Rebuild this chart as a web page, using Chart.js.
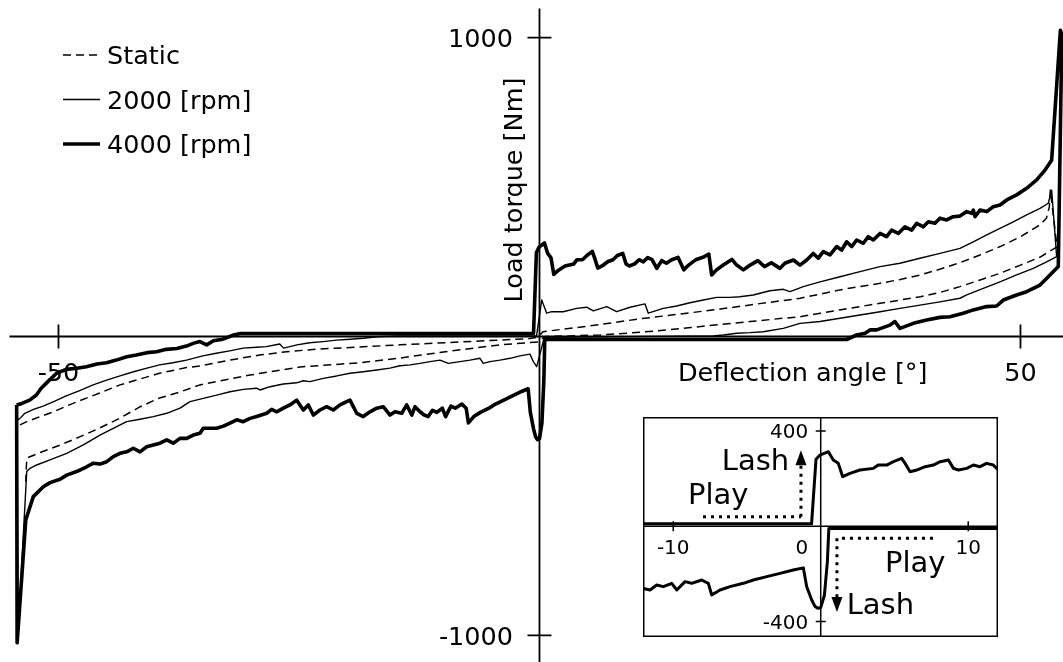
<!DOCTYPE html>
<html><head><meta charset="utf-8">
<script src="https://cdn.jsdelivr.net/npm/chart.js@4.4.1/dist/chart.umd.min.js"></script>
<style>
html,body{margin:0;padding:0;background:#fff;}
#wrap{position:relative;width:1063px;height:662px;overflow:hidden;background:#fff;}
#main{position:absolute;left:0;top:0;}
#inset{position:absolute;left:643px;top:417px;}
</style></head><body>
<div id="wrap"><canvas id="main" width="1063" height="662"></canvas><canvas id="inset" width="355" height="220"></canvas></div>
<script>
// ---------------- data (deflection angle [deg], load torque [Nm]) ----------------
const seriesLabels = ['Static', '2000 [rpm]', '4000 [rpm]'];
const xTickValues = [-50, 50];
const yTickValues = [-1000, 1000];
const insetXTickValues = [-10, 0, 10];
const insetYTickValues = [-400, 400];
const xTitle = 'Deflection angle [°]';
const yTitle = 'Load torque [Nm]';
const playText = 'Play';
const lashText = 'Lash';

const staticUpperLeft = [[-54.0,-296],[-53.3,-285],[-51.9,-268],[-50.5,-252],[-49.2,-233],[-47.8,-215],[-45.7,-189],[-43.6,-162],[-41.5,-142],[-39.5,-123],[-36.7,-104],[-35.3,-99],[-32.2,-79],[-29.1,-62],[-26.0,-50],[-22.9,-42],[-18.7,-35],[-14.5,-28],[-9.3,-20],[-4.1,-12],[-1.0,-7],[-0.15,-2]];
const staticUpperRight = [[0.36,16],[2.1,23],[6.3,40],[10.4,59],[14.6,75],[18.8,92],[22.9,110],[27.1,128],[29.2,142],[31.2,156],[33.3,167],[35.4,178],[37.5,191],[39.6,206],[41.6,225],[43.7,247],[45.8,273],[47.9,301],[50.0,334],[52.0,373],[52.7,396],[53.0,434],[53.1,490]];
const staticLowerRight = [[53.8,300],[52.0,265],[50.0,239],[47.9,212],[45.8,189],[43.7,167],[41.6,147],[39.6,133],[37.5,122],[35.4,111],[33.3,100],[31.2,89],[29.2,78],[27.1,66],[25.0,60],[21.9,50],[18.8,40],[15.7,30],[12.6,20],[9.5,12],[6.3,5],[3.2,2],[0.6,0]];
const staticLowerLeft = [[-0.15,-18],[-4.1,-28],[-9.3,-49],[-14.5,-72],[-18.7,-88],[-24.9,-102],[-30.1,-129],[-35.3,-162],[-37.4,-186],[-39.5,-206],[-41.5,-235],[-43.6,-273],[-45.7,-306],[-47.8,-336],[-49.8,-363],[-51.9,-388],[-53.3,-407],[-53.4,-485]];

const rpm2000UpperLeft = [[-54.0,-274],[-53.5,-257],[-52.6,-244],[-51.6,-233],[-50.5,-218],[-49.2,-199],[-47.8,-181],[-46.4,-162],[-45.0,-146],[-43.6,-132],[-42.2,-118],[-40.8,-106],[-39.5,-95],[-38.1,-88],[-36.7,-79],[-35.0,-65],[-33.6,-56],[-32.2,-48],[-30.8,-39],[-29.4,-36],[-28.4,-34],[-27.0,-25],[-26.6,-39],[-25.2,-28],[-23.9,-21],[-22.5,-17],[-21.1,-12],[-19.7,-9],[-18.3,-6],[-16.9,-1],[-14.8,2],[-0.3,3]];
const rpm2000UpperRight = [[0.23,122],[0.75,78],[1.27,83],[2.47,83],[3.87,94],[4.91,98],[5.59,86],[6.99,100],[8.02,83],[9.41,98],[10.97,109],[11.31,78],[12.87,94],[14.26,102],[15.64,113],[17.03,122],[18.42,131],[19.8,131],[20.84,133],[22.22,139],[23.96,153],[25.34,158],[26.04,150],[27.42,167],[29.16,183],[31.24,200],[33.32,217],[35.4,234],[37.47,245],[39.55,262],[41.63,278],[43.71,295],[45.09,317],[46.49,340],[47.87,362],[49.25,384],[50.64,407],[52.03,429],[52.89,446],[53.24,490]];
const rpm2000LowerRight = [[53.76,267],[52.72,250],[51.33,228],[49.6,206],[47.87,183],[46.13,161],[44.41,139],[43.71,128],[41.63,116],[39.55,105],[37.47,94],[35.4,83],[33.32,72],[31.24,61],[29.16,50],[27.08,44],[25.34,27],[23.26,16],[21.88,13],[20.5,11],[19.11,5],[18.07,2],[0.5,-3]];
const rpm2000LowerLeft = [[-0.29,-101],[-0.64,-84],[-0.99,-59],[-2.03,-65],[-3.07,-73],[-4.11,-79],[-5.15,-84],[-5.84,-90],[-6.19,-73],[-7.22,-79],[-8.26,-84],[-9.48,-90],[-10.34,-79],[-11.38,-84],[-12.42,-90],[-13.46,-95],[-14.5,-98],[-15.54,-106],[-16.92,-112],[-18.32,-118],[-19.7,-123],[-21.08,-132],[-22.47,-140],[-23.86,-151],[-24.55,-148],[-25.24,-155],[-26.63,-159],[-28.01,-168],[-29.05,-179],[-29.4,-173],[-30.79,-177],[-32.17,-185],[-33.56,-196],[-34.95,-207],[-36.33,-218],[-37.37,-240],[-38.75,-257],[-40.15,-268],[-41.53,-277],[-42.91,-285],[-43.95,-302],[-45.69,-330],[-47.42,-363],[-49.15,-391],[-50.88,-413],[-52.27,-430],[-52.96,-441],[-53.3,-452],[-54.2,-990],[-54.3,-280],[-54.0,-274]];

const rpm4000UpperLeft = [[-54.35,-229],[-53.8,-224],[-53.0,-213],[-52.3,-196],[-51.8,-173],[-51.1,-151],[-50.2,-123],[-49.2,-110],[-48.1,-106],[-47.1,-101],[-46.0,-92],[-45.0,-88],[-44.0,-79],[-42.9,-68],[-41.9,-62],[-40.8,-54],[-39.8,-51],[-38.8,-43],[-37.7,-40],[-36.7,-32],[-36.0,-23],[-35.3,-17],[-34.6,-28],[-33.9,-14],[-32.9,-9],[-31.8,5],[-31.1,10],[-0.62,10]];
const rpm4000UpperRight = [[-0.32,281],[-0.05,299],[0.52,313],[0.85,278],[1.19,264],[1.49,208],[1.98,222],[2.66,236],[3.57,243],[3.9,257],[4.47,257],[4.93,271],[5.49,285],[5.72,264],[6.06,229],[6.51,236],[7.08,250],[7.64,257],[8.1,271],[8.66,278],[9.0,243],[9.34,236],[9.9,243],[10.35,257],[10.8,250],[11.25,264],[11.7,257],[12.2,228],[12.7,254],[13.2,245],[13.7,256],[14.4,265],[15.0,223],[15.5,239],[16.3,258],[17.0,265],[17.6,276],[17.9,206],[18.4,223],[19.1,239],[20.0,258],[20.5,239],[21.2,223],[21.9,239],[22.7,254],[23.4,234],[24.1,247],[25.0,228],[25.5,245],[26.4,256],[27.08,239],[27.78,256],[28.46,278],[28.98,262],[29.5,284],[30.2,273],[30.89,301],[31.41,289],[31.93,317],[32.45,301],[32.97,323],[33.66,312],[34.18,334],[34.7,323],[35.4,345],[36.09,334],[36.61,356],[37.3,345],[37.99,367],[38.69,356],[39.21,379],[39.9,367],[40.42,384],[41.11,379],[41.63,396],[42.33,390],[43.01,401],[43.71,403],[44.41,418],[44.93,412],[45.1,423],[45.27,401],[45.79,423],[46.49,418],[47.17,434],[47.87,440],[48.57,457],[49.6,474],[50.64,496],[51.68,524],[52.55,557],[53.24,590],[54.15,1025],[54.3,1010]];
const rpm4000LowerRight = [[53.93,234],[52.89,200],[52.03,172],[51.33,161],[50.64,150],[49.6,139],[48.21,122],[47.52,102],[46.49,100],[45.09,89],[44.05,78],[42.67,66],[41.63,64],[40.25,55],[38.86,44],[37.47,27],[36.95,50],[36.43,38],[35.05,22],[34.36,22],[33.84,11],[32.97,5],[31.93,-10],[0.55,-10]];
const rpm4000LowerLeft = [[0.45,-150],[0.25,-290],[0.0,-342],[-0.2,-345],[-0.4,-336],[-0.61,-310],[-0.95,-254],[-1.18,-175],[-1.86,-184],[-2.76,-198],[-3.66,-212],[-4.57,-226],[-5.25,-240],[-6.15,-254],[-6.83,-268],[-7.39,-289],[-7.62,-240],[-8.07,-226],[-8.75,-240],[-9.2,-233],[-9.76,-268],[-10.1,-240],[-10.67,-254],[-11.12,-247],[-11.57,-268],[-12.02,-262],[-12.42,-252],[-12.94,-235],[-13.28,-263],[-13.8,-229],[-14.32,-257],[-15.02,-252],[-15.54,-263],[-16.24,-235],[-16.92,-240],[-17.62,-252],[-18.32,-268],[-19.0,-257],[-19.7,-213],[-20.04,-218],[-20.74,-229],[-21.43,-246],[-22.12,-235],[-22.82,-246],[-23.51,-263],[-24.03,-229],[-24.55,-246],[-25.24,-213],[-25.94,-229],[-26.63,-240],[-27.32,-252],[-27.84,-244],[-28.36,-257],[-29.4,-268],[-30.09,-274],[-30.79,-285],[-31.48,-279],[-32.17,-290],[-32.87,-300],[-33.56,-307],[-34.95,-307],[-35.29,-324],[-35.99,-330],[-36.67,-341],[-37.37,-341],[-38.07,-357],[-38.75,-346],[-39.45,-357],[-40.15,-363],[-40.83,-369],[-41.53,-386],[-42.22,-374],[-42.91,-386],[-43.61,-391],[-44.3,-402],[-44.99,-419],[-45.69,-427],[-46.38,-424],[-47.07,-436],[-48.11,-452],[-49.15,-464],[-49.84,-478],[-50.88,-489],[-51.58,-503],[-52.62,-536],[-53.4,-614],[-54.3,-1025],[-54.35,-229]];

// inset annotation paths (inset data units)
const playUpperPath = [[-7.98,40],[-1.34,40]];
const lashUpperPath = [[-1.34,40],[-1.34,319]];
const playLowerPath = [[7.61,-51],[1.1,-51]];
const lashLowerPath = [[1.1,-51],[1.1,-360]];

// ---------------- helpers ----------------
const FONT = '"DejaVu Sans", "Liberation Sans", sans-serif';
const toPts = arr => arr.map(([x, y]) => ({x, y}));
const staticLoop = [...staticUpperLeft, ...staticUpperRight, ...staticLowerRight, ...staticLowerLeft];
const rpm2000Loop = [...rpm2000UpperLeft, ...rpm2000UpperRight, ...rpm2000LowerRight, ...rpm2000LowerLeft];
const rpm4000Loop = [...rpm4000UpperLeft, ...rpm4000UpperRight, ...rpm4000LowerRight, ...rpm4000LowerLeft];

function txt(ctx, s, x, y, size, align) {
  ctx.font = size + 'px ' + FONT;
  ctx.textAlign = align;
  ctx.textBaseline = 'alphabetic';
  ctx.fillStyle = '#000';
  ctx.fillText(s, x, y);
}
const capHalf = size => size * 0.729 / 2;

const lineStyles = [
  {borderWidth: 1.5, borderDash: [8, 5]},
  {borderWidth: 1.4, borderDash: []},
  {borderWidth: 3.6, borderDash: []}
];

// ---------------- main chart ----------------
const mainDecor = {
  id: 'mainDecor',
  beforeDatasetsDraw(chart) {
    const {ctx, scales: {x, y}, chartArea: a} = chart;
    const x0 = x.getPixelForValue(0), y0 = y.getPixelForValue(0);
    ctx.save();
    ctx.strokeStyle = '#000';
    ctx.lineWidth = 1.8;
    ctx.beginPath();
    ctx.moveTo(x.getPixelForValue(-55.1), y0); ctx.lineTo(a.right, y0);
    ctx.moveTo(x0, y.getPixelForValue(1098)); ctx.lineTo(x0, a.bottom);
    xTickValues.forEach(v => { const p = x.getPixelForValue(v); ctx.moveTo(p, y0 - 12); ctx.lineTo(p, y0 + 12); });
    yTickValues.forEach(v => { const p = y.getPixelForValue(v); ctx.moveTo(x0 - 12, p); ctx.lineTo(x0 + 12, p); });
    ctx.stroke();
    ctx.restore();
  },
  afterDatasetsDraw(chart) {
    const {ctx, scales: {x, y}} = chart;
    const x0 = x.getPixelForValue(0), y0 = y.getPixelForValue(0);
    const fs = 25.5;
    ctx.save();
    xTickValues.forEach(v => txt(ctx, String(v), x.getPixelForValue(v), y0 + 44.8, fs, 'center'));
    yTickValues.forEach(v => txt(ctx, String(v), x0 - 26.5, y.getPixelForValue(v) + capHalf(fs), fs, 'right'));
    txt(ctx, xTitle, x0 + 138.5, y0 + 44.8, fs, 'left');
    ctx.save();
    ctx.translate(x0 - 17.5, 190);
    ctx.rotate(-Math.PI / 2);
    txt(ctx, yTitle, 0, 0, fs, 'center');
    ctx.restore();
    // legend
    const rows = [55, 99.5, 144];
    chart.data.datasets.forEach((ds, i) => {
      ctx.save();
      ctx.strokeStyle = '#000';
      ctx.lineWidth = ds.borderWidth;
      ctx.setLineDash(ds.borderDash || []);
      ctx.beginPath();
      ctx.moveTo(63, rows[i]); ctx.lineTo(100, rows[i]);
      ctx.stroke();
      ctx.restore();
      txt(ctx, ds.label, 107, rows[i] + capHalf(fs), fs, 'left');
    });
    ctx.restore();
  }
};

function makeDataset(label, loop, st) {
  return {
    label, data: toPts(loop), showLine: true, pointRadius: 0, pointHoverRadius: 0,
    borderColor: '#000', backgroundColor: '#000', borderWidth: st.borderWidth, borderDash: st.borderDash,
    borderJoinStyle: 'round', borderCapStyle: 'butt', fill: false, tension: 0
  };
}

new Chart(document.getElementById('main'), {
  type: 'scatter',
  data: { datasets: [
    makeDataset(seriesLabels[0], staticLoop, lineStyles[0]),
    makeDataset(seriesLabels[1], rpm2000Loop, lineStyles[1]),
    makeDataset(seriesLabels[2], rpm4000Loop, lineStyles[2])
  ]},
  options: {
    responsive: false, animation: false, devicePixelRatio: 1, events: [],
    layout: {padding: 0},
    scales: {
      x: {type: 'linear', min: -56.08, max: 54.42, display: false},
      y: {type: 'linear', min: -1089.4, max: 1126.2, display: false}
    },
    plugins: {legend: {display: false}, tooltip: {enabled: false}}
  },
  plugins: [mainDecor]
});

// ---------------- inset chart ----------------
function dotted(ctx, x, y, path) {
  ctx.beginPath();
  ctx.moveTo(x.getPixelForValue(path[0][0]), y.getPixelForValue(path[0][1]));
  for (let i = 1; i < path.length; i++) ctx.lineTo(x.getPixelForValue(path[i][0]), y.getPixelForValue(path[i][1]));
  ctx.stroke();
}
function arrowHead(ctx, px, py, dir) {
  ctx.beginPath();
  ctx.moveTo(px, py);
  ctx.lineTo(px - 5.5, py - dir * 15);
  ctx.lineTo(px + 5.5, py - dir * 15);
  ctx.closePath();
  ctx.fill();
}

const insetDecor = {
  id: 'insetDecor',
  beforeDraw(chart) {
    const {ctx, width, height} = chart;
    ctx.save(); ctx.fillStyle = '#fff'; ctx.fillRect(0, 0, width, height); ctx.restore();
  },
  beforeDatasetsDraw(chart) {
    const {ctx, scales: {x, y}, chartArea: a} = chart;
    const x0 = x.getPixelForValue(0), y0 = y.getPixelForValue(0);
    ctx.save();
    ctx.strokeStyle = '#000'; ctx.lineWidth = 1.5;
    ctx.beginPath();
    ctx.moveTo(a.left, y0); ctx.lineTo(a.right, y0);
    ctx.moveTo(x0, a.top); ctx.lineTo(x0, a.bottom);
    insetXTickValues.forEach(v => { if (v !== 0) { const p = x.getPixelForValue(v); ctx.moveTo(p, y0 - 5); ctx.lineTo(p, y0 + 5); } });
    insetYTickValues.forEach(v => { const p = y.getPixelForValue(v); ctx.moveTo(x0 - 5, p); ctx.lineTo(x0 + 5, p); });
    ctx.stroke();
    ctx.restore();
  },
  afterDatasetsDraw(chart) {
    const {ctx, scales: {x, y}, chartArea: a} = chart;
    const x0 = x.getPixelForValue(0), y0 = y.getPixelForValue(0);
    const fs = 20;
    ctx.save();
    insetXTickValues.forEach(v => {
      if (v === 0) txt(ctx, String(v), x0 - 12.5, y0 + 20.5 + capHalf(fs), fs, 'right');
      else txt(ctx, String(v), x.getPixelForValue(v), y0 + 20.5 + capHalf(fs), fs, 'center');
    });
    insetYTickValues.forEach(v => txt(ctx, String(v), x0 - 12.5, y.getPixelForValue(v) + capHalf(fs), fs, 'right'));
    // dotted annotations
    ctx.strokeStyle = '#000'; ctx.fillStyle = '#000';
    ctx.lineWidth = 3; ctx.setLineDash([3, 5]); ctx.lineCap = 'butt';
    dotted(ctx, x, y, playUpperPath);
    const upTip = y.getPixelForValue(lashUpperPath[1][1]);
    dotted(ctx, x, y, [lashUpperPath[0], [lashUpperPath[1][0], y.getValueForPixel(upTip + 15)]]);
    dotted(ctx, x, y, playLowerPath);
    const dnTip = y.getPixelForValue(lashLowerPath[1][1]);
    dotted(ctx, x, y, [lashLowerPath[0], [lashLowerPath[1][0], y.getValueForPixel(dnTip - 15)]]);
    ctx.setLineDash([]);
    arrowHead(ctx, x.getPixelForValue(lashUpperPath[1][0]), upTip, -1);
    arrowHead(ctx, x.getPixelForValue(lashLowerPath[1][0]), dnTip, 1);
    const fa = 29;
    txt(ctx, playText, x.getPixelForValue(-9.0), y.getPixelForValue(93), fa, 'left');
    txt(ctx, lashText, x.getPixelForValue(-6.71), y.getPixelForValue(236), fa, 'left');
    txt(ctx, playText, x.getPixelForValue(4.36), y.getPixelForValue(-191), fa, 'left');
    txt(ctx, lashText, x.getPixelForValue(1.76), y.getPixelForValue(-369), fa, 'left');
    // frame
    ctx.lineWidth = 1.5; ctx.strokeStyle = '#000';
    ctx.strokeRect(a.left + 0.75, a.top + 0.75, a.right - a.left - 1.5, a.bottom - a.top - 1.5);
    ctx.restore();
  }
};

new Chart(document.getElementById('inset'), {
  type: 'scatter',
  data: { datasets: [ Object.assign(makeDataset(seriesLabels[2], rpm4000Loop, lineStyles[2]), {borderWidth: 3}) ]},
  options: {
    responsive: false, animation: false, devicePixelRatio: 1, events: [],
    layout: {padding: 0},
    scales: {
      x: {type: 'linear', min: -12.05, max: 12.02, display: false},
      y: {type: 'linear', min: -465.5, max: 458.8, display: false}
    },
    plugins: {legend: {display: false}, tooltip: {enabled: false}}
  },
  plugins: [insetDecor]
});
</script>
</body></html>
